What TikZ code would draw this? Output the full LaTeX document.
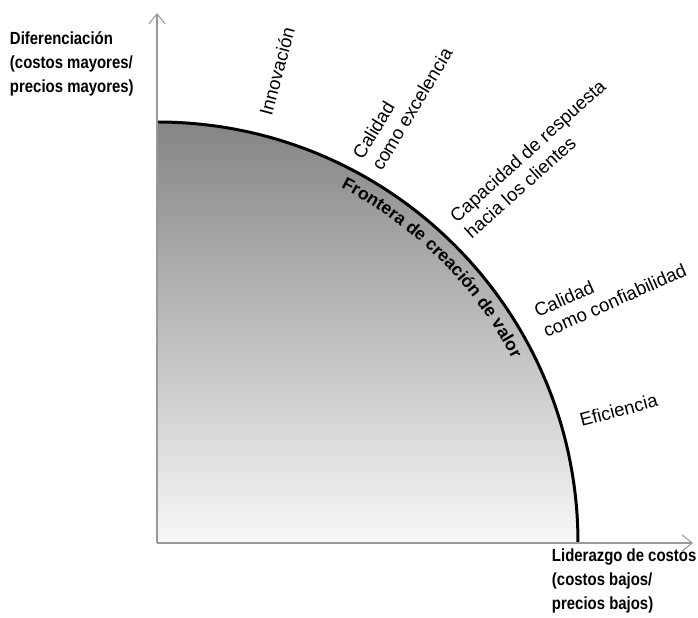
\documentclass[tikz,border=0pt]{standalone}
\usepackage{fontspec}
\setmainfont{Liberation Sans}
\newfontfamily\axisfont[FakeStretch=0.85]{Liberation Sans}
\usetikzlibrary{arrows.meta,decorations.text}
\begin{document}
\begin{tikzpicture}[x=0.02cm,y=0.02cm,inner sep=0pt,outer sep=0pt,
axis/.style={draw=black!40,line width=0.6pt,-{Straight Barb[length=2mm,width=3.2mm]}},
axislabel/.style={font=\axisfont\bfseries\fontsize{10}{13.6}\selectfont,align=left,anchor=north west},
driver/.style={font=\fontsize{10.6}{12.6}\selectfont,align=left,anchor=south west}]
\useasboundingbox (-157,-75) rectangle (541,543);
\shade[top color=black!48,bottom color=black!3] (0,0) -- (0,421) arc[start angle=90,end angle=0,radius=421] -- cycle;
\draw[line width=1.7pt] (0,421) arc[start angle=90,end angle=0,radius=421];
\coordinate (O) at (0,0);
\coordinate (ytip) at (0,530);
\coordinate (xtip) at (536,0);
\draw[axis] (O) -- (ytip);
\draw[axis] (O) -- (xtip);
\node[axislabel] (ylab) at (-147,511) {Diferenciación\\(costos mayores/\\precios mayores)};
\node[axislabel] (xlab) at (395,-6) {Liderazgo de costos\\(costos bajos/\\precios bajos)};
\node[driver,rotate=75] (innov) at (115,426) {Innovación};
\node[driver,rotate=59] (calexc) at (225,371) {Calidad\\como excelencia};
\node[driver,rotate=42] (capres) at (315,303) {Capacidad de respuesta\\hacia los clientes};
\node[driver,rotate=24] (calconf) at (390,205) {Calidad\\como confiabilidad};
\node[driver,rotate=15] (efic) at (425,116) {Eficiencia};
% texto sobre la frontera
\path[decorate,decoration={text along path,text align=center,
text={|\bfseries\fontsize{10}{12}\selectfont|Frontera de creación de valor}}]
(72:400) arc[start angle=72,end angle=18,radius=400];
\end{tikzpicture}
\end{document}
